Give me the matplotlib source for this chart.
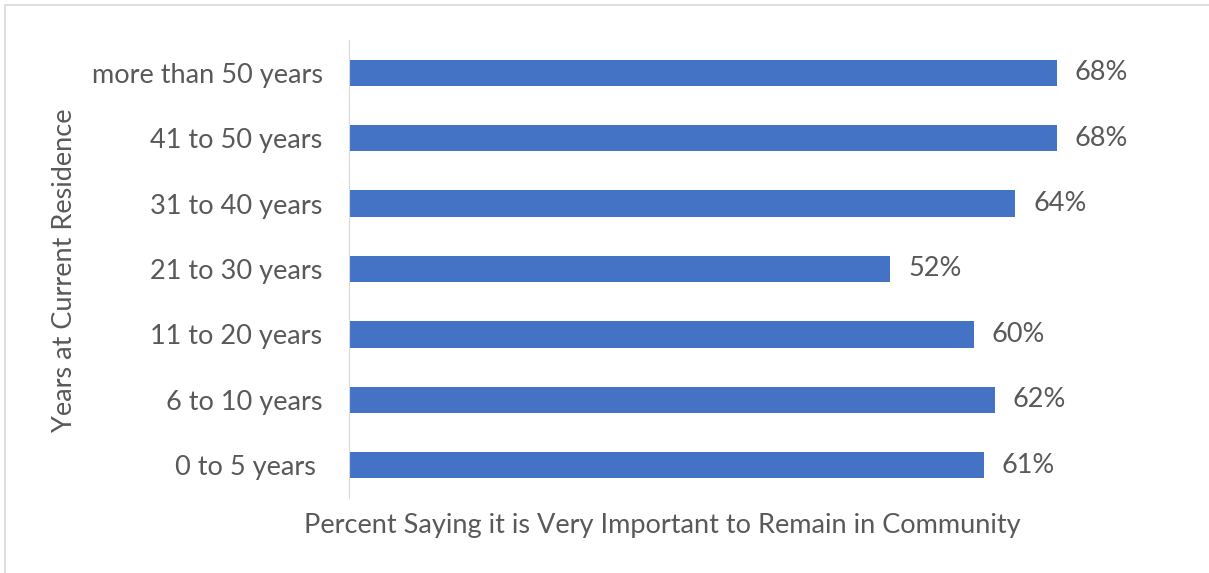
import matplotlib.pyplot as plt
from matplotlib.patches import Rectangle

# years at residence vs share saying it's very important to stay
categories = ["0 to 5 years ", "6 to 10 years", "11 to 20 years", "21 to 30 years",
              "31 to 40 years", "41 to 50 years", "more than 50 years"]
values = [61, 62, 60, 52, 64, 68, 68]

plt.rcParams['font.family'] = ['Lato', 'DejaVu Sans']
text_color = "#595959"
fs = 19.5

fig = plt.figure(figsize=(12.09, 5.73), dpi=100)
ax = fig.add_axes([349 / 1209, 75 / 573, 833 / 1209, 458 / 573])

y = range(len(categories))
ax.barh(y, values, height=0.4, color="#4472C4")
for i, v in zip(y, values):
    ax.text(v + 1.7, i, f"{v}%", va="center", ha="left", fontsize=fs, color=text_color)

ax.set_xlim(0, 80)
ax.set_ylim(-0.5, len(categories) - 0.5)
ax.set_yticks(list(y))
ax.set_yticklabels(categories, fontsize=fs, color=text_color)
ax.tick_params(axis="y", length=0, pad=19)
ax.set_xticks([])
for side in ["top", "right", "bottom"]:
    ax.spines[side].set_visible(False)
ax.spines["left"].set_color("#d9d9d9")

fig.text(662 / 1209, 1 - 525 / 573, "Percent Saying it is Very Important to Remain in Community",
         ha="center", va="center", fontsize=fs, color=text_color)
fig.text(65 / 1209, 1 - 270 / 573, "Years at Current Residence", rotation=90,
         ha="center", va="center", fontsize=fs, color=text_color)

# chart frame
fig.patches.append(Rectangle((5 / 1209, -0.1), 1.2, (573 - 5) / 573 + 0.1,
                             transform=fig.transFigure, fill=False,
                             edgecolor="#d9d9d9", linewidth=1.2))

fig.savefig("out.png", dpi=100)
